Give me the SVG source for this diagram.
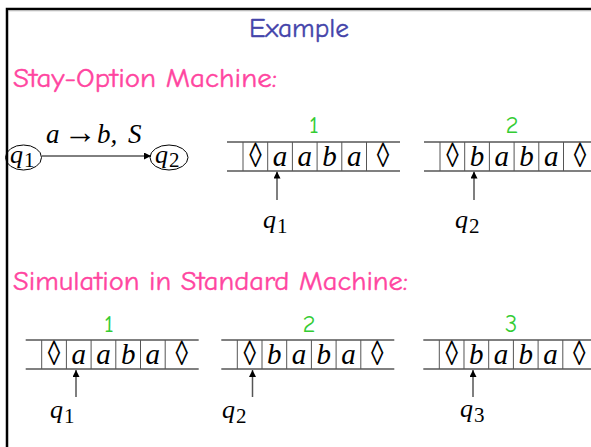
<svg xmlns="http://www.w3.org/2000/svg" width="591" height="447" viewBox="0 0 591 447">
<defs>
<style>
.head{font-family:"Comic Sans MS","Comic Neue","Noto Sans",sans-serif;font-size:27px;stroke-width:0.4px}
.num{font-family:"Comic Sans MS","Comic Neue","Noto Sans",sans-serif;font-size:25px;fill:#33cc33;text-anchor:middle}
.m{font-family:"Liberation Serif","Times New Roman",serif;font-style:italic;font-size:29px;fill:#000;text-anchor:middle}
.sym{font-family:"Liberation Serif","DejaVu Serif",serif;font-size:24px;fill:#000;text-anchor:middle}
.q{font-family:"Liberation Serif","Times New Roman",serif;font-style:italic;font-size:26px;fill:#000}
.sub{font-style:normal;font-size:21px}
.tl{stroke:#000;stroke-width:1}
.bl{stroke:#808080;stroke-width:2}
.dv{stroke:#555;stroke-width:1}
.ptr{stroke:#555;stroke-width:1.5;fill:none}
</style>
<marker id="ah" viewBox="0 0 10 10" refX="10" refY="5" markerWidth="8" markerHeight="7" markerUnits="userSpaceOnUse" orient="auto"><path d="M0,0 L10,5 L0,10 z" fill="#000"/></marker>
<marker id="ph" viewBox="0 0 10 10" refX="10" refY="5" markerWidth="7" markerHeight="7" markerUnits="userSpaceOnUse" orient="auto"><path d="M0,0 L10,5 L0,10 z" fill="#000"/></marker>
<g id="tapeframe">
<line class="tl" x1="-16" y1="0" x2="157" y2="0"/>
<line class="bl" x1="-16" y1="29" x2="157" y2="29"/>
<line class="dv" x1="0" y1="0" x2="0" y2="29"/>
<line class="dv" x1="24.7" y1="0" x2="24.7" y2="29"/>
<line class="dv" x1="49.4" y1="0" x2="49.4" y2="29"/>
<line class="dv" x1="74.1" y1="0" x2="74.1" y2="29"/>
<line class="dv" x1="98.8" y1="0" x2="98.8" y2="29"/>
<line class="dv" x1="123.5" y1="0" x2="123.5" y2="29"/>
</g>
</defs>
<rect width="591" height="447" fill="#fff"/>
<g id="frame">
<path d="M7,447 V9 H591" fill="none" stroke="#000" stroke-width="2.5"/>
<line x1="8.5" y1="10.8" x2="591" y2="10.8" stroke="#bbb" stroke-width="1"/>
</g>
<g id="titles">
<text class="head" x="249" y="37" fill="#4444aa" stroke="#4444aa" textLength="100" lengthAdjust="spacingAndGlyphs">Example</text>
<text class="head" x="13" y="87" fill="#ff45a0" stroke="#ff45a0" textLength="264" lengthAdjust="spacingAndGlyphs">Stay-Option Machine:</text>
<text class="head" x="13" y="290" fill="#ff45a0" stroke="#ff45a0" textLength="395" lengthAdjust="spacingAndGlyphs">Simulation in Standard Machine:</text>
</g>
<g id="state-q1">
<ellipse cx="23.5" cy="157.5" rx="18" ry="12.5" fill="none" stroke="#000" stroke-width="1"/>
<text class="q" x="10" y="163">q<tspan class="sub" dx="1" dy="4">1</tspan></text>
</g>
<g id="state-q2">
<ellipse cx="169" cy="157.5" rx="19" ry="12.5" fill="none" stroke="#000" stroke-width="1"/>
<text class="q" x="155" y="163">q<tspan class="sub" dx="1" dy="4">2</tspan></text>
</g>
<g id="transition-label" font-family="Liberation Serif, Times New Roman, serif" font-size="27">
<text x="46" y="143" font-style="italic">a</text>
<text x="80" y="143" font-size="33" text-anchor="middle">→</text>
<text x="97" y="143" font-style="italic">b,</text>
<text x="128" y="143" font-style="italic">S</text>
</g>
<g id="labels">
<text class="num" x="314" y="133">1</text>
<text class="num" x="512" y="133">2</text>
<text class="num" x="109" y="332">1</text>
<text class="num" x="309" y="332">2</text>
<text class="num" x="511" y="332">3</text>
</g>
<g id="tape-stay-1" transform="translate(243,142)">
<use href="#tapeframe"/>
<text class="sym" transform="translate(12.35,24.5) scale(1.05,1.45)">◊</text>
<text class="m" x="37.05" y="24">a</text>
<text class="m" x="61.75" y="24">a</text>
<text class="m" x="86.45" y="24">b</text>
<text class="m" x="111.15" y="24">a</text>
<text class="sym" transform="translate(140,24.5) scale(1.05,1.45)">◊</text>
</g>
<g id="tape-stay-2" transform="translate(440,142)">
<use href="#tapeframe"/>
<text class="sym" transform="translate(12.35,24.5) scale(1.05,1.45)">◊</text>
<text class="m" x="37.05" y="24">b</text>
<text class="m" x="61.75" y="24">a</text>
<text class="m" x="86.45" y="24">b</text>
<text class="m" x="111.15" y="24">a</text>
<text class="sym" transform="translate(140,24.5) scale(1.05,1.45)">◊</text>
</g>
<g id="tape-sim-1" transform="translate(41.7,340)">
<use href="#tapeframe"/>
<text class="sym" transform="translate(12.35,24.5) scale(1.05,1.45)">◊</text>
<text class="m" x="37.05" y="24">a</text>
<text class="m" x="61.75" y="24">a</text>
<text class="m" x="86.45" y="24">b</text>
<text class="m" x="111.15" y="24">a</text>
<text class="sym" transform="translate(140,24.5) scale(1.05,1.45)">◊</text>
</g>
<g id="tape-sim-2" transform="translate(237.3,340)">
<use href="#tapeframe"/>
<text class="sym" transform="translate(12.35,24.5) scale(1.05,1.45)">◊</text>
<text class="m" x="37.05" y="24">b</text>
<text class="m" x="61.75" y="24">a</text>
<text class="m" x="86.45" y="24">b</text>
<text class="m" x="111.15" y="24">a</text>
<text class="sym" transform="translate(140,24.5) scale(1.05,1.45)">◊</text>
</g>
<g id="tape-sim-3" transform="translate(439.3,340)">
<use href="#tapeframe"/>
<text class="sym" transform="translate(12.35,24.5) scale(1.05,1.45)">◊</text>
<text class="m" x="37.05" y="24">b</text>
<text class="m" x="61.75" y="24">a</text>
<text class="m" x="86.45" y="24">b</text>
<text class="m" x="111.15" y="24">a</text>
<text class="sym" transform="translate(140,24.5) scale(1.05,1.45)">◊</text>
</g>
<g id="head-labels">
<text class="q" x="263" y="228">q<tspan class="sub" dx="1" dy="5">1</tspan></text>
<text class="q" x="455" y="228">q<tspan class="sub" dx="1" dy="5">2</tspan></text>
<text class="q" x="50" y="418">q<tspan class="sub" dx="1" dy="5">1</tspan></text>
<text class="q" x="222" y="418">q<tspan class="sub" dx="1" dy="5">2</tspan></text>
<text class="q" x="460" y="417">q<tspan class="sub" dx="1" dy="5">3</tspan></text>
</g>
<g id="connectors">
<line x1="42" y1="156" x2="151" y2="156" stroke="#000" stroke-width="1" marker-end="url(#ah)"/>
<line class="ptr" x1="277" y1="200" x2="277" y2="171.5" marker-end="url(#ph)"/>
<line class="ptr" x1="474" y1="200" x2="474" y2="171.5" marker-end="url(#ph)"/>
<line class="ptr" x1="76" y1="397" x2="76" y2="370" marker-end="url(#ph)"/>
<line class="ptr" x1="252.5" y1="397" x2="252.5" y2="370" marker-end="url(#ph)"/>
<line class="ptr" x1="473" y1="397" x2="473" y2="370" marker-end="url(#ph)"/>
</g>
</svg>
